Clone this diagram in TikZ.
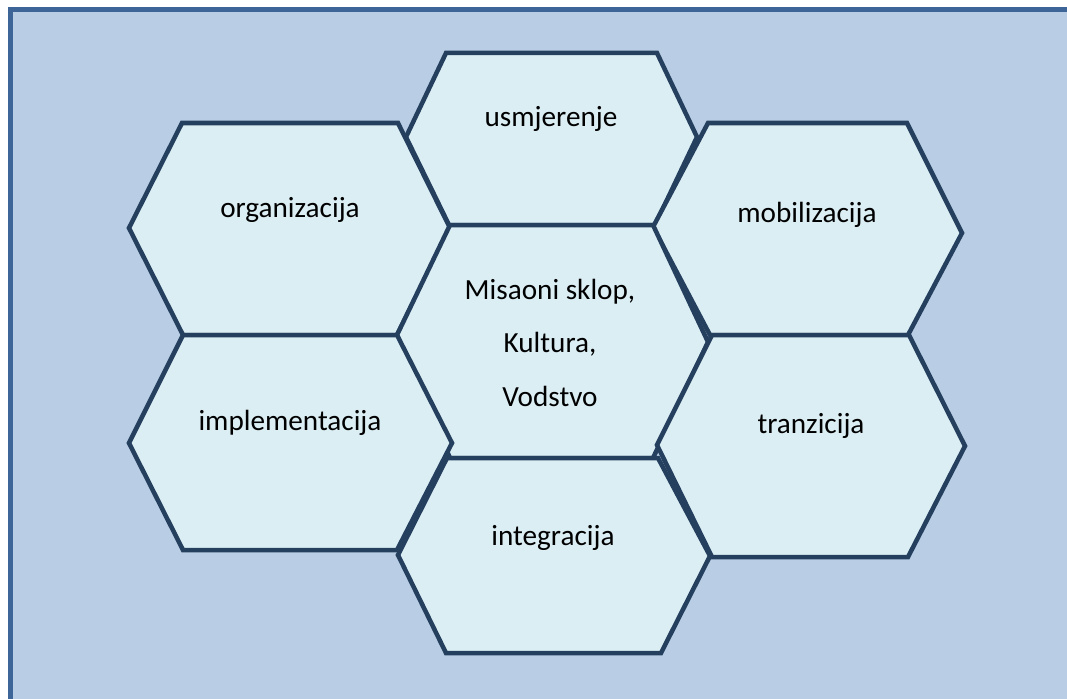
\documentclass[tikz,border=0pt]{standalone}
\usepackage{fontspec}
\setmainfont{Carlito}
\definecolor{frameBlue}{HTML}{3E6597}
\definecolor{paneBlue}{HTML}{B9CDE5}
\definecolor{cellFill}{HTML}{DBEEF4}
\definecolor{cellLine}{HTML}{25405F}
\begin{document}
\begin{tikzpicture}[
    x=1pt, y=-1pt,
    cell/.style={fill=cellFill, draw=cellLine, line width=4.5pt, line join=miter},
    label/.style={anchor=base, font=\fontsize{29.2}{53.5}\selectfont, inner sep=0pt},
    every node/.style={
        text centered,
        }
        ]
    \useasboundingbox (0,0) rectangle (1067,698);
    \clip (0,0) rectangle (1067,698);
    \fill[white] (0,0) rectangle (1067,698);
    \draw[fill=paneBlue, draw=frameBlue, line width=5pt] (10,10) rectangle (1090,720);

    % hexagons
    \draw[cell] (446,53) -- (657,53) -- (697,137) -- (655,225) -- (449,225) -- (406,137) -- cycle;
    \draw[cell] (182,123) -- (398,123) -- (450,228) -- (397,335) -- (183,335) -- (129,228) -- cycle;
    \draw[cell] (708,123) -- (907,123) -- (962,233) -- (908,335) -- (710,335) -- (653,227) -- cycle;
    \draw[cell] (450,225) -- (653,225) -- (708,342) -- (653,458) -- (450,458) -- (397,335) -- cycle;
    \draw[cell] (183,335) -- (397,335) -- (452,443) -- (397,550) -- (183,550) -- (129,443) -- cycle;
    \draw[cell] (712,335) -- (909,335) -- (965,446) -- (908,557) -- (712,557) -- (657,445) -- cycle;
    \draw[cell] (447,458) -- (658,458) -- (710,556) -- (661,653) -- (446,653) -- (398,555) -- cycle;

    % labels (base of the last line for the middle one)
    \node[label] (usmjerenje) at (551,127) {usmjerenje};
    \node[label] (organizacija) at (290,217) {organizacija};
    \node[label] (mobilizacija) at (807,222) {mobilizacija};
    \node[label, align=center] (jezgra) at (550,406) {Misaoni sklop,\\Kultura,\\Vodstvo};
    \node[label] (implementacija) at (290,430) {implementacija};
    \node[label] (tranzicija) at (811,433) {tranzicija};
    \node[label] (integracija) at (553,545) {integracija};
\end{tikzpicture}
\end{document}
